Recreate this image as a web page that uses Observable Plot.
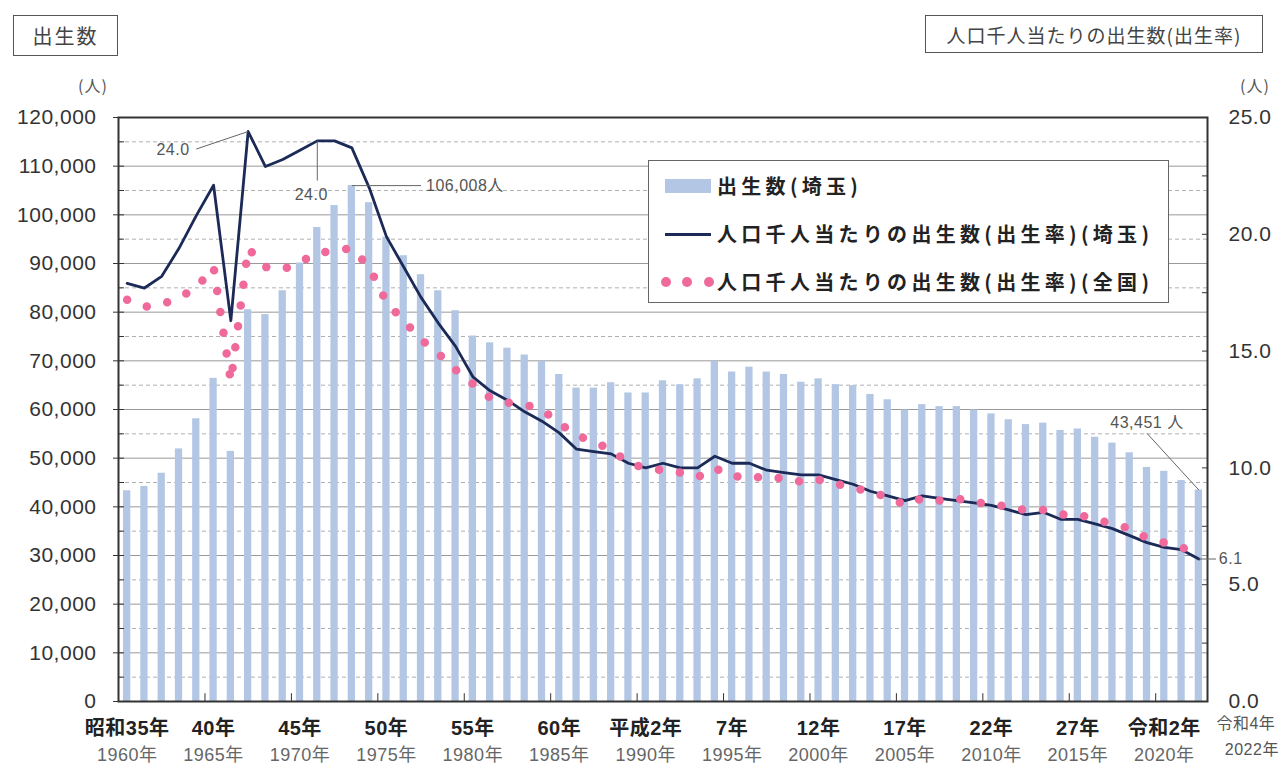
<!DOCTYPE html>
<html>
<head>
<meta charset="utf-8">
<script src="https://cdn.jsdelivr.net/npm/d3@7"></script>
<script src="https://cdn.jsdelivr.net/npm/@observablehq/plot@0.6"></script>
<style>
  body { margin: 0; background: #fff; }
  #wrap { position: relative; width: 1284px; height: 781px; overflow: hidden; background: #fff; }
  #chart { position: absolute; left: 0; top: 0; }
  .box { position: absolute; border: 1.5px solid #555; color: #444; background: #fff;
         font-family: "Noto Sans CJK JP", sans-serif; display: flex; align-items: center; justify-content: center; box-sizing: border-box; }
  .unit { position: absolute; font-family: "Noto Sans CJK JP", sans-serif; font-size: 16px; color: #555; letter-spacing: 1px; }
  #legend { position: absolute; left: 648px; top: 160px; width: 521px; height: 143px; border: 1.5px solid #666;
            background: #fff; box-sizing: border-box; font-family: "Noto Sans CJK JP", sans-serif; }
  .lrow { position: absolute; left: 0; height: 30px; width: 100%; }
  .ltext { position: absolute; left: 68px; top: 0; line-height: 30px; font-size: 20px; font-weight: bold; color: #222; letter-spacing: 4.3px; white-space: nowrap; }
  .sw { position: absolute; }
  #chart svg text { letter-spacing: 0.5px; }
</style>
</head>
<body>
<div id="wrap">
  <div id="chart"></div>
  <div class="box" style="left:13px;top:15px;width:105px;height:41px;font-size:20px;letter-spacing:2px;">出生数</div>
  <div class="box" style="left:925px;top:15px;width:338px;height:38px;font-size:19px;letter-spacing:1px;">人口千人当たりの出生数(出生率)</div>
  <div class="unit" style="left:78px;top:73px;">(人)</div>
  <div class="unit" style="left:1240px;top:73px;">(人)</div>
  <div id="legend"></div>
</div>
<script>
// ---- data ----
const years = [1960,1961,1962,1963,1964,1965,1966,1967,1968,1969,
  1970,1971,1972,1973,1974,1975,1976,1977,1978,1979,
  1980,1981,1982,1983,1984,1985,1986,1987,1988,1989,
  1990,1991,1992,1993,1994,1995,1996,1997,1998,1999,
  2000,2001,2002,2003,2004,2005,2006,2007,2008,2009,
  2010,2011,2012,2013,2014,2015,2016,2017,2018,2019,
  2020,2021,2022];
// 出生数(埼玉)
const birthsSaitama = [43300,44200,46900,51900,58100,66400,51400,80500,79500,84400,
  90100,97400,101900,106008,102500,95400,91600,87700,84400,80300,
  75100,73700,72600,71200,69900,67200,64400,64400,65500,63400,
  63400,65900,65100,66300,69900,67700,68700,67700,67200,65600,
  66300,65100,64900,63100,62000,59900,61000,60600,60600,59900,
  59100,57900,56900,57200,55700,56000,54300,53100,51100,48100,
  47300,45400,43451];
// 人口千人当たりの出生数(出生率)(埼玉)
const rateSaitama = [17.9,17.7,18.2,19.4,20.8,22.1,16.3,24.4,22.9,23.2,
  23.6,24.0,24.0,23.7,22.0,19.9,18.6,17.3,16.2,15.2,
  13.9,13.3,12.9,12.4,12.0,11.5,10.8,10.7,10.6,10.2,
  10.0,10.2,10.0,10.0,10.5,10.2,10.2,9.9,9.8,9.7,
  9.7,9.5,9.3,9.0,8.8,8.6,8.8,8.7,8.6,8.5,
  8.4,8.2,8.0,8.1,7.8,7.8,7.6,7.4,7.1,6.8,
  6.6,6.5,6.1];
// 人口千人当たりの出生数(出生率)(全国)
const rateNational = [17.2,16.9,17.0,17.3,17.7,18.6,13.7,19.4,18.6,18.5,
  18.8,19.2,19.3,19.4,18.6,17.1,16.3,15.5,14.9,14.2,
  13.6,13.0,12.8,12.7,12.5,11.9,11.4,11.1,10.8,10.2,
  10.0,9.9,9.8,9.6,10.0,9.6,9.7,9.5,9.6,9.4,
  9.5,9.3,9.2,8.9,8.8,8.4,8.7,8.6,8.7,8.5,
  8.5,8.3,8.2,8.2,8.0,8.0,7.8,7.6,7.4,7.0,
  6.8,6.6,6.3];
// x-axis labels
const labelYears = [1960,1965,1970,1975,1980,1985,1990,1995,2000,2005,2010,2015,2020];
const eraLabels = ["昭和35年","40年","45年","50年","55年","60年","平成2年","7年","12年","17年","22年","27年","令和2年"];
const westernLabels = ["1960年","1965年","1970年","1975年","1980年","1985年","1990年","1995年","2000年","2005年","2010年","2015年","2020年"];
const lastYearLabels = ["令和4年", "2022年"];
// y-axis ticks
const leftTicks = [0,10000,20000,30000,40000,50000,60000,70000,80000,90000,100000,110000,120000];
const leftMinorTicks = [5000,15000,25000,35000,45000,55000,65000,75000,85000,95000,105000,115000];
const rightTicks = [0,2.5,5,7.5,10,12.5,15,17.5,20,22.5,25];
const rightLabels = [0,5,10,15,20,25];
// annotations
const annoPeak1967 = {year: 1967, rate: 24.4, label: "24.0"};
const annoPeak1971 = {year: 1971, rate: 24.0, label: "24.0"};
const annoMaxBirths = {year: 1973, births: 106008, label: "106,008人"};
const annoLastBirths = {year: 2022, births: 43451, label: "43,451 人"};
const annoLastRate = {year: 2022, rate: 6.1, label: "6.1"};

// ---- build ----
const K = 120000 / 25; // right-axis (rate) to left-axis (births) factor
const table = years.map((y, i) => ({year: y, births: birthsSaitama[i], rate: rateSaitama[i], nat: rateNational[i]}));
const BAR = "#B3C7E5", NAVY = "#1B2A56", PINK = "#EF6A9B";
const NUMFONT = '"Liberation Sans","Noto Sans CJK JP",sans-serif';
const ANNO = {fontSize: 16, fill: "#555"};

const chart = Plot.plot({
  width: 1284, height: 781,
  marginTop: 117, marginLeft: 118, marginRight: 77, marginBottom: 80,
  x: {type: "band", domain: years, padding: 0, round: false, label: null},
  y: {domain: [0, 120000], label: null},
  style: {fontFamily: NUMFONT, background: "transparent", overflow: "visible"},
  marks: [
    Plot.ruleY(leftMinorTicks, {stroke: "#b0b0b0", strokeWidth: 1, strokeDasharray: "4,3"}),
    Plot.ruleY(leftTicks.slice(1, -1), {stroke: "#999", strokeWidth: 1}),
    Plot.barY(table, {x: "year", y: "births", fill: BAR, insetLeft: 5, insetRight: 5}),
    Plot.line(table, {x: "year", y: d => d.rate * K, stroke: NAVY, strokeWidth: 2.8}),
    Plot.line(table, {x: "year", y: d => d.nat * K, stroke: PINK, strokeWidth: 8.5, strokeDasharray: "0,21", strokeLinecap: "round"}),
    Plot.frame({stroke: "#333", strokeWidth: 2}),
    // left axis
    Plot.axisY(leftMinorTicks.concat(leftTicks), {anchor: "left", tickSize: -6, tickFormat: () => "", stroke: "#333"}),
    Plot.axisY(leftTicks, {anchor: "left", tickSize: 5, tickPadding: 17, tickFormat: d3.format(","), fontSize: 21, fill: "#333", stroke: "#333"}),
    // right axis
    Plot.axisY(rightTicks.map(v => v * K), {anchor: "right", tickSize: -6, tickFormat: () => "", stroke: "#333"}),
    Plot.axisY(rightLabels.map(v => v * K), {anchor: "right", tickSize: 0, tickPadding: 21, tickFormat: d => (d / K).toFixed(1), fontSize: 21, fill: "#333"}),
    // x axis
    Plot.ruleX(labelYears.slice(1), {x: d => d, y1: 0, y2: 1600, dx: -8.6, stroke: "#333", strokeWidth: 1}),
    Plot.axisX(labelYears, {anchor: "bottom", tickSize: 0, tickPadding: 19, tickFormat: d => eraLabels[labelYears.indexOf(d)], fontSize: 20, fontWeight: "bold", fill: "#222"}),
    Plot.axisX(labelYears, {anchor: "bottom", tickSize: 0, tickPadding: 47, tickFormat: d => westernLabels[labelYears.indexOf(d)], fontSize: 18, fill: "#666"}),
    Plot.text([2022], {x: d => d, frameAnchor: "bottom", dy: 27, dx: 47, text: () => lastYearLabels[0], fontSize: 16, fill: "#555"}),
    Plot.text([2022], {x: d => d, frameAnchor: "bottom", dy: 53, dx: 53, text: () => lastYearLabels[1], fontSize: 16, fill: "#555"}),
    // annotations
    Plot.link([annoPeak1967], {x1: () => 1964, y1: () => 23.65 * K, x2: "year", y2: d => d.rate * K, stroke: "#666", strokeWidth: 1}),
    Plot.text([annoPeak1967], {x: () => 1963, y: () => 23.6 * K, dx: -6, text: "label", ...ANNO}),
    Plot.link([annoPeak1971], {x1: "year", y1: d => d.rate * K, x2: "year", y2: () => 22.3 * K, stroke: "#666", strokeWidth: 1}),
    Plot.text([annoPeak1971], {x: "year", y: () => 21.7 * K, dx: -6, text: "label", ...ANNO}),
    Plot.link([annoMaxBirths], {x1: "year", y1: "births", x2: () => 1977, y2: "births", stroke: "#666", strokeWidth: 1}),
    Plot.text([annoMaxBirths], {x: () => 1977, y: "births", dx: 5, textAnchor: "start", text: "label", ...ANNO}),
    Plot.link([annoLastBirths], {x1: () => 2019, y1: () => 55100, x2: "year", y2: "births", stroke: "#666", strokeWidth: 1}),
    Plot.text([annoLastBirths], {x: () => 2019, y: () => 57300, text: "label", ...ANNO}),
    Plot.tickY([annoLastRate], {x: "year", y: d => d.rate * K, dx: 9, stroke: "#666", strokeWidth: 1}),
    Plot.text([annoLastRate], {x: "year", y: d => d.rate * K, dx: 20, textAnchor: "start", text: "label", ...ANNO})
  ]
});
document.getElementById("chart").appendChild(chart);

// ---- legend ----
const legendItems = [
  {label: "出生数(埼玉)", kind: "bar"},
  {label: "人口千人当たりの出生数(出生率)(埼玉)", kind: "line"},
  {label: "人口千人当たりの出生数(出生率)(全国)", kind: "dots"}
];
const legendRowTops = [10, 58, 106];
const legend = document.getElementById("legend");
legendItems.forEach((it, i) => {
  const row = document.createElement("div");
  row.className = "lrow";
  row.style.top = legendRowTops[i] + "px";
  let sw = "";
  if (it.kind === "bar") sw = `<div class="sw" style="left:16px;top:8px;width:46px;height:14px;background:${BAR}"></div>`;
  if (it.kind === "line") sw = `<div class="sw" style="left:16px;top:14px;width:46px;height:3px;background:${NAVY}"></div>`;
  if (it.kind === "dots") sw = [12, 33, 55].map(l => `<div class="sw" style="left:${l}px;top:10px;width:10px;height:10px;border-radius:50%;background:${PINK}"></div>`).join("");
  row.innerHTML = sw + `<div class="ltext">${it.label}</div>`;
  legend.appendChild(row);
});
</script>
</body>
</html>
